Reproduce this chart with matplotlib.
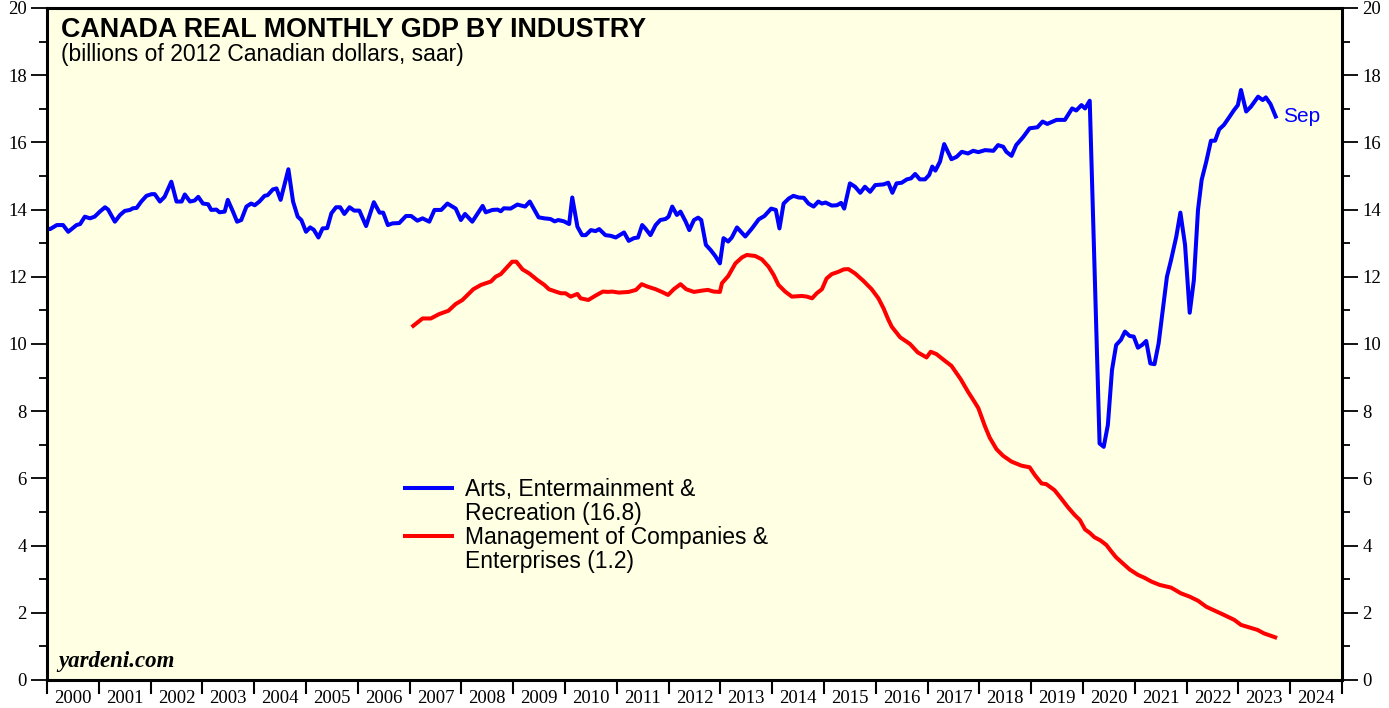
import matplotlib.pyplot as plt
from matplotlib.ticker import MultipleLocator, FixedLocator, NullFormatter
import numpy as np

# Arts, Entertainment & Recreation (decimal year, billions C$2012 saar)
arts_years = [
    2000.00, 2000.06, 2000.19, 2000.31, 2000.41, 2000.57, 2000.64, 2000.73, 2000.83, 2000.92,
    2001.02, 2001.12, 2001.18, 2001.31, 2001.41, 2001.50, 2001.60, 2001.66, 2001.73, 2001.82,
    2001.92, 2002.02, 2002.08, 2002.18, 2002.27, 2002.40, 2002.50, 2002.60, 2002.66, 2002.76,
    2002.85, 2002.92, 2003.01, 2003.11, 2003.17, 2003.27, 2003.33, 2003.43, 2003.49, 2003.59,
    2003.67, 2003.75, 2003.85, 2003.94, 2004.01, 2004.10, 2004.20, 2004.26, 2004.36, 2004.43,
    2004.51, 2004.66, 2004.75, 2004.84, 2004.91, 2005.00, 2005.08, 2005.15, 2005.24, 2005.32,
    2005.41, 2005.49, 2005.58, 2005.66, 2005.74, 2005.84, 2005.93, 2006.03, 2006.16, 2006.31,
    2006.42, 2006.49, 2006.58, 2006.67, 2006.80, 2006.93, 2007.03, 2007.15, 2007.25, 2007.38,
    2007.48, 2007.61, 2007.73, 2007.89, 2007.99, 2008.07, 2008.21, 2008.41, 2008.47, 2008.60,
    2008.70, 2008.76, 2008.82, 2008.95, 2009.08, 2009.23, 2009.32, 2009.49, 2009.60, 2009.72,
    2009.80, 2009.87, 2009.98, 2010.08, 2010.14, 2010.24, 2010.33, 2010.40, 2010.50, 2010.59,
    2010.66, 2010.78, 2010.88, 2010.98, 2011.14, 2011.23, 2011.33, 2011.41, 2011.49, 2011.55,
    2011.65, 2011.75, 2011.84, 2011.94, 2012.00, 2012.07, 2012.16, 2012.23, 2012.33, 2012.40,
    2012.49, 2012.57, 2012.63, 2012.72, 2012.81, 2012.90, 2012.99, 2013.06, 2013.15, 2013.22,
    2013.32, 2013.48, 2013.61, 2013.74, 2013.85, 2013.98, 2014.07, 2014.14, 2014.22, 2014.32,
    2014.41, 2014.51, 2014.61, 2014.70, 2014.80, 2014.89, 2014.96, 2015.03, 2015.15, 2015.25,
    2015.33, 2015.39, 2015.50, 2015.60, 2015.70, 2015.79, 2015.89, 2015.99, 2016.15, 2016.24,
    2016.32, 2016.40, 2016.50, 2016.60, 2016.68, 2016.76, 2016.85, 2016.95, 2017.03, 2017.09,
    2017.15, 2017.24, 2017.32, 2017.46, 2017.56, 2017.66, 2017.78, 2017.88, 2017.98, 2018.11,
    2018.27, 2018.36, 2018.46, 2018.52, 2018.62, 2018.71, 2018.84, 2018.97, 2019.12, 2019.22,
    2019.31, 2019.49, 2019.65, 2019.79, 2019.87, 2019.97, 2020.04, 2020.13, 2020.32, 2020.40,
    2020.48, 2020.56, 2020.64, 2020.73, 2020.81, 2020.90, 2020.98, 2021.06, 2021.14, 2021.22,
    2021.30, 2021.38, 2021.46, 2021.54, 2021.62, 2021.70, 2021.80, 2021.88, 2021.97, 2022.06,
    2022.14, 2022.22, 2022.29, 2022.38, 2022.47, 2022.55, 2022.63, 2022.72, 2022.81, 2022.91,
    2022.99, 2023.05, 2023.15, 2023.24, 2023.38, 2023.47, 2023.53, 2023.62, 2023.72,
]
arts_vals = [
    13.44, 13.42, 13.54, 13.54, 13.34, 13.54, 13.57, 13.79, 13.74, 13.79,
    13.94, 14.07, 14.00, 13.64, 13.84, 13.96, 13.99, 14.04, 14.05, 14.24,
    14.41, 14.46, 14.46, 14.24, 14.38, 14.83, 14.24, 14.24, 14.45, 14.24,
    14.27, 14.38, 14.18, 14.16, 13.99, 14.00, 13.92, 13.94, 14.29, 13.94,
    13.64, 13.69, 14.09, 14.18, 14.13, 14.24, 14.41, 14.43, 14.60, 14.63,
    14.29, 15.20, 14.24, 13.79, 13.69, 13.34, 13.47, 13.40, 13.17, 13.44,
    13.45, 13.89, 14.07, 14.07, 13.87, 14.07, 13.97, 13.97, 13.51, 14.22,
    13.91, 13.91, 13.54, 13.59, 13.60, 13.81, 13.81, 13.67, 13.74, 13.64,
    13.99, 13.99, 14.18, 14.03, 13.69, 13.87, 13.64, 14.11, 13.92, 13.99,
    14.00, 13.95, 14.04, 14.03, 14.15, 14.09, 14.24, 13.77, 13.74, 13.72,
    13.65, 13.69, 13.65, 13.57, 14.36, 13.49, 13.24, 13.24, 13.39, 13.36,
    13.42, 13.24, 13.22, 13.17, 13.32, 13.07, 13.15, 13.17, 13.54, 13.44,
    13.24, 13.54, 13.69, 13.72, 13.79, 14.09, 13.84, 13.94, 13.64, 13.39,
    13.69, 13.76, 13.69, 12.95, 12.80, 12.62, 12.40, 13.15, 13.05, 13.17,
    13.47, 13.20, 13.44, 13.71, 13.81, 14.03, 13.99, 13.44, 14.18, 14.33,
    14.41, 14.36, 14.35, 14.18, 14.09, 14.24, 14.18, 14.21, 14.12, 14.13,
    14.20, 14.03, 14.78, 14.68, 14.50, 14.68, 14.53, 14.73, 14.75, 14.80,
    14.50, 14.78, 14.80, 14.90, 14.93, 15.06, 14.90, 14.90, 15.03, 15.28,
    15.16, 15.43, 15.95, 15.50, 15.57, 15.72, 15.67, 15.75, 15.71, 15.77,
    15.75, 15.92, 15.87, 15.72, 15.60, 15.92, 16.15, 16.42, 16.45, 16.62,
    16.55, 16.67, 16.67, 17.01, 16.95, 17.11, 17.01, 17.24, 7.04, 6.94,
    7.59, 9.23, 9.97, 10.12, 10.37, 10.24, 10.22, 9.89, 9.97, 10.09,
    9.42, 9.40, 10.02, 11.01, 12.00, 12.50, 13.19, 13.91, 12.95, 10.93,
    11.90, 13.99, 14.88, 15.43, 16.05, 16.05, 16.39, 16.52, 16.72, 16.95,
    17.11, 17.56, 16.92, 17.06, 17.36, 17.26, 17.34, 17.14, 16.77,
]

# Management of Companies & Enterprises
mgmt_years = [
    2007.07, 2007.25, 2007.41, 2007.57, 2007.75, 2007.89, 2008.02, 2008.23, 2008.38, 2008.57,
    2008.66, 2008.76, 2008.89, 2008.98, 2009.06, 2009.18, 2009.31, 2009.47, 2009.60, 2009.69,
    2009.82, 2009.92, 2010.01, 2010.11, 2010.24, 2010.30, 2010.45, 2010.59, 2010.73, 2010.83,
    2010.91, 2011.04, 2011.23, 2011.37, 2011.48, 2011.59, 2011.75, 2011.87, 2011.99, 2012.10,
    2012.23, 2012.34, 2012.49, 2012.65, 2012.76, 2012.87, 2012.99, 2013.03, 2013.15, 2013.29,
    2013.42, 2013.51, 2013.67, 2013.80, 2013.93, 2014.03, 2014.12, 2014.25, 2014.38, 2014.57,
    2014.67, 2014.77, 2014.86, 2014.96, 2015.05, 2015.15, 2015.28, 2015.38, 2015.47, 2015.60,
    2015.76, 2015.92, 2016.05, 2016.15, 2016.24, 2016.31, 2016.47, 2016.66, 2016.81, 2016.98,
    2017.06, 2017.17, 2017.30, 2017.46, 2017.64, 2017.78, 2017.90, 2017.98, 2018.11, 2018.20,
    2018.33, 2018.46, 2018.62, 2018.81, 2018.97, 2019.07, 2019.20, 2019.29, 2019.45, 2019.58,
    2019.71, 2019.84, 2019.94, 2020.04, 2020.13, 2020.22, 2020.34, 2020.45, 2020.55, 2020.64,
    2020.77, 2020.90, 2021.06, 2021.19, 2021.32, 2021.48, 2021.70, 2021.89, 2022.06, 2022.22,
    2022.38, 2022.55, 2022.73, 2022.92, 2023.05, 2023.20, 2023.37, 2023.49, 2023.71,
]
mgmt_vals = [
    10.54, 10.76, 10.76, 10.89, 10.99, 11.19, 11.31, 11.63, 11.76, 11.86,
    12.00, 12.08, 12.30, 12.45, 12.45, 12.22, 12.10, 11.90, 11.76, 11.63,
    11.56, 11.51, 11.51, 11.41, 11.49, 11.36, 11.31, 11.44, 11.56, 11.55,
    11.56, 11.53, 11.55, 11.61, 11.78, 11.71, 11.63, 11.55, 11.46, 11.63,
    11.78, 11.63, 11.55, 11.59, 11.61, 11.56, 11.55, 11.81, 12.02, 12.40,
    12.58, 12.65, 12.62, 12.52, 12.30, 12.05, 11.76, 11.56, 11.41, 11.43,
    11.41, 11.36, 11.51, 11.63, 11.95, 12.08, 12.15, 12.22, 12.23, 12.10,
    11.88, 11.63, 11.36, 11.06, 10.73, 10.51, 10.20, 10.00, 9.75, 9.60,
    9.77, 9.70, 9.54, 9.35, 8.95, 8.58, 8.29, 8.09, 7.54, 7.21,
    6.87, 6.67, 6.50, 6.38, 6.33, 6.10, 5.85, 5.83, 5.65, 5.40,
    5.14, 4.91, 4.76, 4.48, 4.38, 4.25, 4.15, 4.02, 3.82, 3.65,
    3.47, 3.29, 3.13, 3.04, 2.93, 2.83, 2.75, 2.58, 2.48, 2.36,
    2.18, 2.06, 1.93, 1.79, 1.64, 1.57, 1.49, 1.39, 1.27,
]

legend_labels = ["Arts, Entermainment &", "Recreation (16.8)",
                 "Management of Companies &", "Enterprises (1.2)"]
year_labels = [str(y) for y in range(2000, 2025)]

serif = "Liberation Serif"
sans = "Liberation Sans"

fig = plt.figure(figsize=(13.89, 7.08), dpi=100)
ax = fig.add_axes([47 / 1389, 1 - 680 / 708, 1295 / 1389, 672 / 708])
ax.set_facecolor("#FFFFE4")

blue_line, = ax.plot(arts_years, arts_vals, color="#0000FF", lw=2.9, solid_joinstyle="round")
red_line, = ax.plot(mgmt_years, mgmt_vals, color="#FF0000", lw=2.9, solid_joinstyle="round")

ax.annotate("Sep", (arts_years[-1], arts_vals[-1]), xytext=(5, 0),
            textcoords="offset points", color="#0000FF", fontsize=15,
            family=sans, va="center", ha="left")

ax.set_xlim(2000, 2025)
ax.set_ylim(0, 20)

# y axis on both sides
ax.yaxis.set_major_locator(MultipleLocator(2))
ax.yaxis.set_minor_locator(MultipleLocator(1))
ax.tick_params(axis="y", which="major", direction="out", length=11.5, width=1.3,
               left=True, right=True, labelleft=True, labelright=True,
               labelsize=13.5, pad=3)
ax.tick_params(axis="y", which="minor", direction="out", length=6, width=1.3,
               left=True, right=True)
for lab in ax.get_yticklabels():
    lab.set_family(serif)

# x axis: year boundary ticks, labels centered in between
ax.xaxis.set_major_locator(MultipleLocator(1))
ax.xaxis.set_major_formatter(NullFormatter())
ax.xaxis.set_minor_locator(FixedLocator([y + 0.5 for y in range(2000, 2025)]))
ax.set_xticklabels(year_labels, minor=True, family=serif, fontsize=13.5)
ax.tick_params(axis="x", which="major", direction="out", length=10, width=1.5)
ax.tick_params(axis="x", which="minor", length=0, pad=7)

for s in ax.spines.values():
    s.set_linewidth(2.2)

ax.text(0.011, 0.987, "CANADA REAL MONTHLY GDP BY INDUSTRY", transform=ax.transAxes,
        fontsize=19.4, fontweight="bold", family=sans, va="top", ha="left")
ax.text(0.011, 0.948, "(billions of 2012 Canadian dollars, saar)", transform=ax.transAxes,
        fontsize=16.5, family=sans, va="top", ha="left")
ax.text(0.009, 0.012, "yardeni.com", transform=ax.transAxes, fontsize=16.5,
        fontweight="bold", fontstyle="italic", family=serif, va="bottom", ha="left")

blank = plt.Line2D([], [], color="none")
ax.legend([blue_line, blank, red_line, blank], legend_labels,
          loc="upper left", bbox_to_anchor=(0.2765, 0.301), frameon=False,
          prop={"family": sans, "size": 16.5}, handlelength=2.05,
          handletextpad=0.58, labelspacing=0.05, borderpad=0, borderaxespad=0)

fig.savefig("out.png", dpi=100)
